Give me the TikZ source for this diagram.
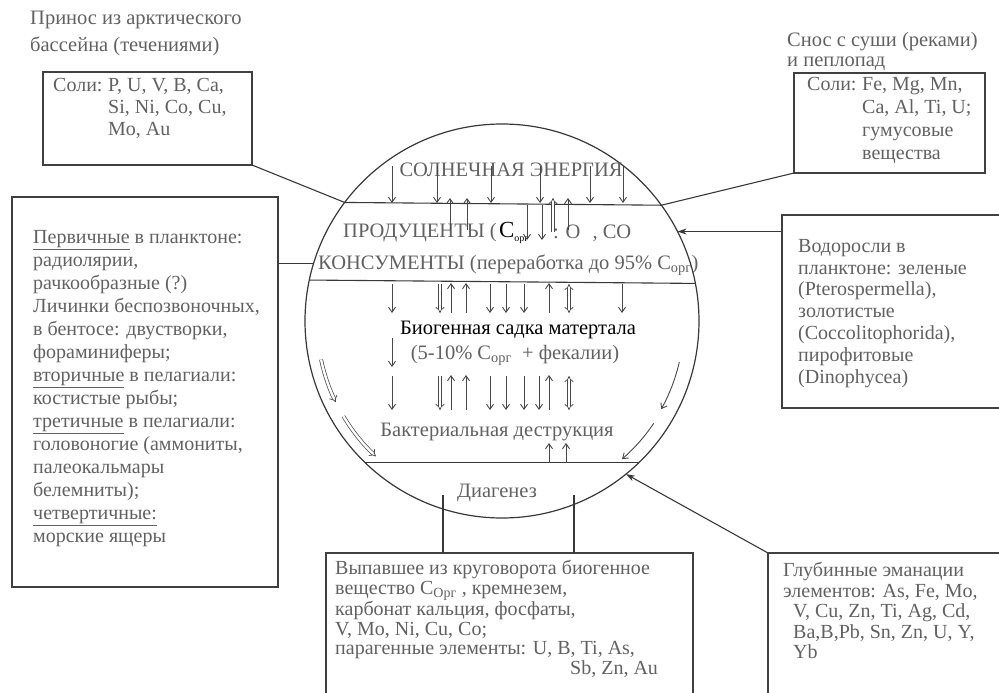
\documentclass[tikz,border=0pt]{standalone}
\usepackage{fontspec}
\setmainfont{Liberation Serif}
\usetikzlibrary{arrows.meta}

\tikzset{
    box/.style={draw=black!75, line width=1.6pt, inner sep=0pt, outer sep=0pt, anchor=north west},
    txt/.style={font=\fontsize{20}{22}\selectfont, text=black!62, align=left, inner sep=0pt, anchor=north west},
    ctr/.style={font=\fontsize{20.5}{22}\selectfont, text=black!62, inner sep=0pt},
    link/.style={draw=black!78, line width=1.1pt},
    dn/.style={draw=black!72, line width=0.9pt, -{Straight Barb[length=5pt, width=7pt]}},
    dbl/.style={draw=black!72, line width=0.7pt, double=white, double distance=2.4pt, -{Implies}},
    dbltwo/.style={dbl, {Implies}-{Implies}}
}

\begin{document}
\begin{tikzpicture}[x=1pt, y=-1pt]
    \useasboundingbox (0,0) rectangle (999,693);

    % the cycle
    \node[draw=black!78, line width=1.2pt, circle, minimum size=394pt, inner sep=0pt, outer sep=0pt] (ring) at (502,321) {};
    \draw[link] (ring.143.6) -- (ring.36.4);
    \draw[link] (ring.168.6) -- (ring.11.4);
    \draw[link] (ring.226.1) -- (ring.-46.1);

    \node[ctr] (sun) at (511,170) {СОЛНЕЧНАЯ ЭНЕРГИЯ};
    \node[ctr, anchor=west] (prod) at (343,233) {ПРОДУЦЕНТЫ (};
    \node[ctr, anchor=west, text=black, font=\fontsize{23}{23}\selectfont] (corg) at ([xshift=2pt]prod.east) {C\textsubscript{\fontsize{10}{10}\selectfont орг}};
    \node[ctr, anchor=west] (gas) at (553,233) {: O\hspace{12pt}, CO};
    \node[ctr, anchor=west] (cons) at (318,265) {КОНСУМЕНТЫ (переработка до 95\% C\textsubscript{орг})};
    \node[ctr, text=black] (biosed) at (518,330) {Биогенная садка матертала};
    \node[ctr] (feces) at (515,355) {(5-10\% C\textsubscript{орг}\ \ + фекалии)};
    \node[ctr] (bact) at (497,432) {Бактериальная деструкция};
    \node[ctr] (diag) at (497,493) {Диагенез};

    % flows inside
    \foreach \x in {392,437,491,540,590,623}
        \draw[dn] (\x,166) -- (\x,203);
    \foreach \x in {450,467,568}
        \draw[dn] (\x,230) -- (\x,198);
    \draw[dbl] (553,232) -- (553,198);
    \foreach \x in {527,542}
        \draw[dn] (\x,205) -- (\x,240);

    \foreach \x in {392,490,506,524,622}
        \draw[dn] (\x,284) -- (\x,313);
    \foreach \x in {451,466,549}
        \draw[dn] (\x,313) -- (\x,283);
    \draw[dbl] (440,284) -- (440,313);
    \draw[dbltwo] (569,284) -- (569,313);

    \draw[dn] (392,338) -- (392,367);
    \foreach \x in {392,490,506,524,539}
        \draw[dn] (\x,376) -- (\x,410);
    \foreach \x in {451,466,549}
        \draw[dn] (\x,410) -- (\x,375);
    \draw[dbl] (440,376) -- (440,410);
    \draw[dbltwo] (569,376) -- (569,410);

    \foreach \x in {549,566}
        \draw[dn] (\x,463) -- (\x,443);

    \draw[dbl] (ring.center) ++(192:185pt) arc[start angle=192, end angle=206, radius=185pt];
    \draw[dbl] (ring.center) ++(211:185pt) arc[start angle=211, end angle=227, radius=185pt];
    \draw[dn] (ring.center) ++(-13:182pt) arc[start angle=-13, end angle=-29, radius=182pt];
    \draw[dn] (ring.center) ++(-34:183pt) arc[start angle=-34, end angle=-49, radius=183pt];

    % arctic input
    \node[txt, font=\fontsize{20.5}{27}\selectfont] (arctt) at (30,11) {Принос из арктического\\бассейна (течениями)};
    \node[box, minimum width=209pt, minimum height=93pt] (arct) at (43,72) {};
    \node[txt] (arctl) at (53,78) {\makebox[55pt][l]{Соли:}P, U, V, B, Ca,\\\hspace*{55pt}Si, Ni, Co, Cu,\\\hspace*{55pt}Mo, Au};
    \draw[link] (arct.south east) -- (ring.143.6);

    % rivers and ash
    \node[txt, font=\fontsize{20.5}{20}\selectfont] (rivt) at (787,32) {Снос с суши (реками)\\и пеплопад};
    \node[box, minimum width=191pt, minimum height=100pt] (riv) at (794,73) {};
    \node[txt, font=\fontsize{20}{23}\selectfont] (rivl) at (807,77) {\makebox[55pt][l]{Соли:}Fe, Mg, Mn,\\\hspace*{55pt}Ca, Al, Ti, U;\\\hspace*{55pt}гумусовые\\\hspace*{55pt}вещества};
    \draw[link] (riv.south west) -- (ring.36.4);

    % consumers
    \node[box, minimum width=266pt, minimum height=390pt] (troph) at (12,197) {};
    \node[txt, font=\fontsize{20}{23}\selectfont] (trophl) at (33,230) {\underline{Первичные} в планктоне:\\радиолярии,\\рачкообразные (?)\\Личинки беспозвоночных,\\в бентосе: двустворки,\\фораминиферы;\\\underline{вторичные} в пелагиали:\\костистые рыбы;\\\underline{третичные} в пелагиали:\\головоногие (аммониты,\\палеокальмары\\белемниты);\\\underline{четвертичные:}\\морские ящеры};
    \draw[link] (troph.east |- ring.163) -- (ring.163);

    % producers
    \node[box, minimum width=240pt, minimum height=193pt] (alg) at (782,215) {};
    \node[txt, font=\fontsize{20}{21.8}\selectfont] (algl) at (798,239) {Водоросли в\\планктоне: зеленые\\(Pterospermella),\\золотистые\\(Coccolitophorida),\\пирофитовые\\(Dinophycea)};
    \draw[link, -{Stealth[length=9pt, width=6pt]}] (alg.west |- ring.27) -- (ring.27);

    % out of the cycle
    \coordinate (dg1) at (443,495);
    \coordinate (dg2) at (574,495);
    \node[box, minimum width=367pt, minimum height=160pt] (sed) at (326,553) {};
    \node[txt, font=\fontsize{20}{19.6}\selectfont] (sedl) at (335,560) {Выпавшее из круговорота биогенное\\вещество C\textsubscript{Орг}\ , кремнезем,\\карбонат кальция, фосфаты,\\V, Mo, Ni, Cu, Co;\\парагенные элементы: U, B, Ti, As,\\\hspace*{235pt}Sb, Zn, Au};
    \draw[link] (dg1) -- (dg1 |- sed.north);
    \draw[link] (dg2) -- (dg2 |- sed.north);

    % deep sources
    \node[box, minimum width=250pt, minimum height=160pt] (deep) at (768,553) {};
    \node[txt, font=\fontsize{20}{20.5}\selectfont] (deepl) at (783,562) {Глубинные эманации\\элементов: As, Fe, Mo,\\\hspace*{10pt}V, Cu, Zn, Ti, Ag, Cd,\\\hspace*{10pt}Ba,B,Pb, Sn, Zn, U, Y,\\\hspace*{10pt}Yb};
    \draw[link, -{Stealth[length=9pt, width=6pt]}] (deep.north west) -- (ring.-51);
\end{tikzpicture}
\end{document}
